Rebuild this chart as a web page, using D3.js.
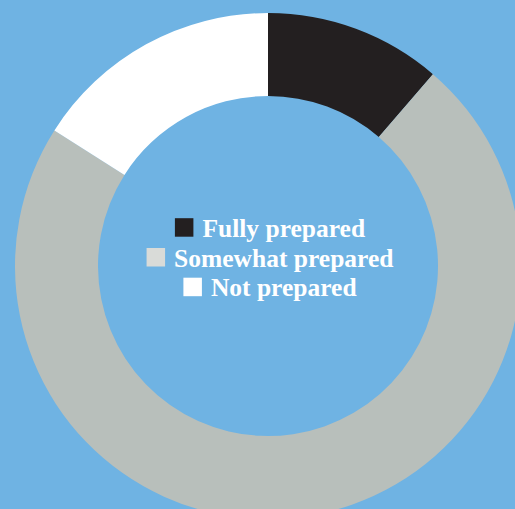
<!DOCTYPE html>
<html>
<head>
<meta charset="utf-8">
<script src="https://cdn.jsdelivr.net/npm/d3@7"></script>
<style>
html,body{margin:0;padding:0;background:#6fb3e3;overflow:hidden;}
svg{display:block;}
</style>
</head>
<body>
<script>
const categories = ["Fully prepared", "Somewhat prepared", "Not prepared"];
const values = [11.3, 72.7, 16.0];
const sliceColors = ["#231f20", "#b8bfbb", "#ffffff"];
const legendColors = ["#231f20", "#d9dbd8", "#ffffff"];

const W = 515, H = 509;
const cx = 268, cy = 266, rOuter = 253, rInner = 170;

const svg = d3.select("body").append("svg").attr("width", W).attr("height", H);
svg.append("rect").attr("width", W).attr("height", H).attr("fill", "#6fb3e3");

const pie = d3.pie().sort(null).value(d => d)(values);
const arc = d3.arc().innerRadius(rInner).outerRadius(rOuter);
const g = svg.append("g").attr("transform", `translate(${cx},${cy})`);
g.selectAll("path").data(pie).join("path")
  .attr("d", arc)
  .attr("fill", (d, i) => sliceColors[i]);

const baseY = [236.7, 266.5, 296.2];
const sq = 18.5, gap = 9, centerX = 270;
categories.forEach((c, i) => {
  const row = svg.append("g");
  const t = row.append("text")
    .attr("x", sq + gap).attr("y", baseY[i])
    .attr("font-family", "'Liberation Serif', 'DejaVu Serif', serif")
    .attr("font-weight", "bold")
    .attr("font-size", 25.5)
    .attr("fill", "#ffffff")
    .text(c);
  row.append("rect")
    .attr("x", 0).attr("y", baseY[i] - sq)
    .attr("width", sq).attr("height", sq)
    .attr("fill", legendColors[i]);
  const w = sq + gap + t.node().getComputedTextLength();
  row.attr("transform", `translate(${centerX - w / 2},0)`);
});
</script>
</body>
</html>
